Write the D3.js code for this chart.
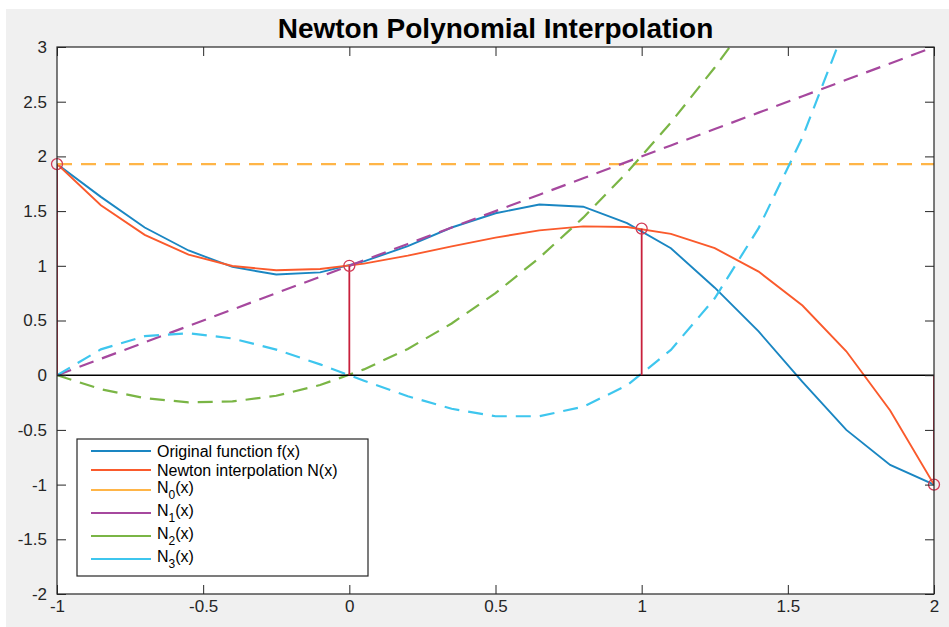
<!DOCTYPE html>
<html>
<head>
  <script src="https://d3js.org/d3.v7.min.js"></script>
  <style>
    body { margin: 0; background: #fff; }
    svg { display: block; font-family: "Liberation Sans", Arial, sans-serif; }
    .axis text { font-size: 17px; fill: #262626; }
    .axis line { stroke: #262626; }
    .axis path { display: none; }
    .title { font-size: 28px; font-weight: bold; fill: #000; text-anchor: middle; }
    .legend-text { font-size: 16px; fill: #000; }
  </style>
</head>
<body>
  <div id="chart"></div>

  <script>
    // sample points used for every curve
    var xs = [-1, -0.85, -0.7, -0.55, -0.4, -0.25, -0.1, 0.05, 0.2, 0.35, 0.5,
              0.65, 0.8, 0.95, 1.1, 1.25, 1.4, 1.55, 1.7, 1.85, 2];
    var fx = [1.93, 1.63, 1.35, 1.14, 0.99, 0.92, 0.94, 1.04, 1.18, 1.35, 1.48,
              1.56, 1.54, 1.39, 1.16, 0.80, 0.40, -0.06, -0.50, -0.82, -1.0];
    var nx = [1.93, 1.554, 1.283, 1.102, 0.998, 0.959, 0.971, 1.02, 1.093, 1.177, 1.258,
              1.324, 1.36, 1.354, 1.292, 1.161, 0.947, 0.637, 0.219, -0.323, -1.0];
    var n0 = [1.93, 1.93, 1.93, 1.93, 1.93, 1.93, 1.93, 1.93, 1.93, 1.93, 1.93,
              1.93, 1.93, 1.93, 1.93, 1.93, 1.93, 1.93, 1.93, 1.93, 1.93];
    var n1 = [0, 0.15, 0.3, 0.45, 0.6, 0.75, 0.9, 1.05, 1.2, 1.35, 1.5,
              1.65, 1.8, 1.95, 2.1, 2.25, 2.4, 2.55, 2.7, 2.85, 3];
    var n2 = [0, -0.128, -0.21, -0.248, -0.24, -0.188, -0.09, 0.053, 0.24, 0.473, 0.75,
              1.073, 1.44, 1.853, 2.31, 2.813, 3.36, 3.953, 4.59, 5.273, 6];
    var n3 = [0, 0.236, 0.357, 0.384, 0.336, 0.234, 0.099, -0.05, -0.192, -0.307, -0.375,
              -0.375, -0.288, -0.093, 0.231, 0.703, 1.344, 2.174, 3.213, 4.482, 6];

    // interpolation nodes
    var nodeX = [-1, 0, 1, 2];
    var nodeY = [1.93, 1, 1.34, -1];

    var xTicks = [-1, -0.5, 0, 0.5, 1, 1.5, 2];
    var xTickLabels = ["-1", "-0.5", "0", "0.5", "1", "1.5", "2"];
    var yTicks = [-2, -1.5, -1, -0.5, 0, 0.5, 1, 1.5, 2, 2.5, 3];
    var yTickLabels = ["-2", "-1.5", "-1", "-0.5", "0", "0.5", "1", "1.5", "2", "2.5", "3"];

    var series = [
      { name: "Original function f(x)", values: fx, color: "#1a86c2", dash: null },
      { name: "Newton interpolation N(x)", values: nx, color: "#fa5a2c", dash: null },
      { name: "N", sub: "0", values: n0, color: "#ffb547", dash: "15,9" },
      { name: "N", sub: "1", values: n1, color: "#a6489e", dash: "15,9" },
      { name: "N", sub: "2", values: n2, color: "#7ab545", dash: "15,9" },
      { name: "N", sub: "3", values: n3, color: "#3ec6ee", dash: "15,9" }
    ];

    var W = 949, H = 627;
    var plotL = 57, plotR = 934, plotT = 47, plotB = 594;

    var svg = d3.select("#chart").append("svg")
      .attr("width", W)
      .attr("height", H);

    // grey figure background
    svg.append("rect")
      .attr("x", 6).attr("y", 9)
      .attr("width", W - 6).attr("height", H - 9)
      .attr("fill", "#f0f0f0");

    var x = d3.scaleLinear().domain([-1, 2]).range([plotL, plotR]);
    var y = d3.scaleLinear().domain([-2, 3]).range([plotB, plotT]);

    svg.append("rect")
      .attr("x", plotL).attr("y", plotT)
      .attr("width", plotR - plotL).attr("height", plotB - plotT)
      .attr("fill", "#fff");

    svg.append("clipPath").attr("id", "plot-clip")
      .append("rect")
      .attr("x", plotL).attr("y", plotT)
      .attr("width", plotR - plotL).attr("height", plotB - plotT);

    var plot = svg.append("g").attr("clip-path", "url(#plot-clip)");

    var line = d3.line()
      .x(function(d) { return x(d[0]); })
      .y(function(d) { return y(d[1]); });

    series.forEach(function(s) {
      plot.append("path")
        .datum(xs.map(function(v, i) { return [v, s.values[i]]; }))
        .attr("fill", "none")
        .attr("stroke", s.color)
        .attr("stroke-width", s.dash ? 2.2 : 1.9)
        .attr("stroke-dasharray", s.dash)
        .attr("d", line);
    });

    // stem plot of the nodes
    plot.append("line")
      .attr("x1", x(-1)).attr("x2", x(2))
      .attr("y1", y(0)).attr("y2", y(0))
      .attr("stroke", "#000")
      .attr("stroke-width", 1.5);

    plot.selectAll(".stem")
      .data(nodeX)
      .enter()
      .append("line")
      .attr("class", "stem")
      .attr("x1", function(d) { return x(d); })
      .attr("x2", function(d) { return x(d); })
      .attr("y1", y(0))
      .attr("y2", function(d, i) { return y(nodeY[i]); })
      .attr("stroke", "#c8203c")
      .attr("stroke-width", 1.8);

    svg.selectAll(".node")
      .data(nodeX)
      .enter()
      .append("circle")
      .attr("class", "node")
      .attr("cx", function(d) { return x(d); })
      .attr("cy", function(d, i) { return y(nodeY[i]); })
      .attr("r", 5.5)
      .attr("fill", "none")
      .attr("stroke", "#d23a55")
      .attr("stroke-width", 1.3);

    // axes with inward ticks on all four sides
    svg.append("g")
      .attr("class", "axis")
      .attr("transform", "translate(0," + plotB + ")")
      .call(d3.axisBottom(x).tickValues(xTicks)
        .tickFormat(function(d, i) { return xTickLabels[i]; })
        .tickSizeInner(-9).tickSizeOuter(0).tickPadding(6));

    svg.append("g")
      .attr("class", "axis")
      .attr("transform", "translate(0," + plotT + ")")
      .call(d3.axisTop(x).tickValues(xTicks).tickFormat("")
        .tickSizeInner(-9).tickSizeOuter(0));

    svg.append("g")
      .attr("class", "axis")
      .attr("transform", "translate(" + plotL + ",0)")
      .call(d3.axisLeft(y).tickValues(yTicks)
        .tickFormat(function(d, i) { return yTickLabels[i]; })
        .tickSizeInner(-9).tickSizeOuter(0).tickPadding(10));

    svg.append("g")
      .attr("class", "axis")
      .attr("transform", "translate(" + plotR + ",0)")
      .call(d3.axisRight(y).tickValues(yTicks).tickFormat("")
        .tickSizeInner(-9).tickSizeOuter(0));

    svg.append("rect")
      .attr("x", plotL).attr("y", plotT)
      .attr("width", plotR - plotL).attr("height", plotB - plotT)
      .attr("fill", "none")
      .attr("stroke", "#262626")
      .attr("stroke-width", 1.2);

    svg.append("text")
      .attr("class", "title")
      .attr("x", (plotL + plotR) / 2)
      .attr("y", 38)
      .text("Newton Polynomial Interpolation");

    // legend
    var rowY = [451, 470, 490, 513, 536, 559];
    var legend = svg.append("g");
    legend.append("rect")
      .attr("x", 77).attr("y", 439)
      .attr("width", 291).attr("height", 137)
      .attr("fill", "#fff")
      .attr("stroke", "#262626")
      .attr("stroke-width", 1.2);

    series.forEach(function(s, i) {
      legend.append("line")
        .attr("x1", 91).attr("x2", 151)
        .attr("y1", rowY[i]).attr("y2", rowY[i])
        .attr("stroke", s.color)
        .attr("stroke-width", 1.9);
      var t = legend.append("text")
        .attr("class", "legend-text")
        .attr("x", 157)
        .attr("y", rowY[i] + (s.sub ? 3 : 5.5));
      if (s.sub) {
        t.append("tspan").text(s.name);
        t.append("tspan").attr("dy", 6).attr("font-size", 12).text(s.sub);
        t.append("tspan").attr("dy", -6).text("(x)");
      } else {
        t.text(s.name);
      }
    });
  </script>
</body>
</html>
